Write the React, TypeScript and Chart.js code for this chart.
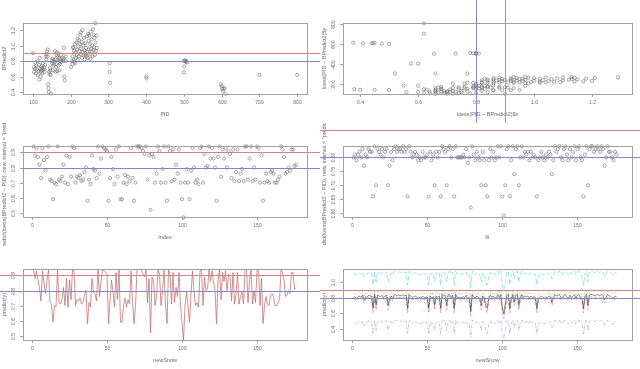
import React, { useEffect, useRef } from "react";
import { Chart, registerables } from "chart.js";
Chart.register(...registerables);

// ---------- data ----------
const pid = [
  100,102,103,105,106,108,109,110,112,113,115,116,117,118,119,120,121,122,123,124,
  125,126,127,128,130,131,132,134,135,136,137,138,139,140,141,142,143,144,145,146,
  147,148,150,151,152,153,154,155,156,157,158,159,160,161,162,163,164,165,166,167,
  168,169,170,171,172,174,175,176,178,180,181,182,183,184,186,187,
  201,203,204,205,206,207,208,209,210,211,212,213,214,215,216,217,218,219,220,221,
  222,223,224,225,226,227,228,229,230,231,232,233,234,235,236,237,238,239,240,241,
  242,243,244,245,246,247,248,249,250,251,252,253,254,255,256,257,258,259,260,261,
  262,263,264,265,266,267,268,269,
  303,303,304,400,401,500,502,504,505,506,508,501,500,598,600,601,603,605,608,610,700,800
];
const bpredict = [
  0.90,0.66,0.72,0.70,0.78,0.64,0.74,0.69,0.80,0.62,0.67,0.75,0.56,0.84,0.70,0.60,0.66,0.73,0.68,0.71,
  0.64,0.77,0.70,0.69,0.72,0.66,0.75,0.86,0.82,0.89,0.92,0.86,0.95,0.50,0.45,0.40,0.66,0.63,0.71,0.68,
  0.62,0.38,0.80,0.77,0.83,0.68,0.74,0.81,0.76,0.79,0.93,0.82,0.66,0.72,0.88,0.91,0.67,0.85,0.79,0.74,
  0.90,0.84,0.68,0.76,0.82,0.88,0.80,0.79,0.84,0.81,0.83,0.97,0.60,0.55,0.80,0.86,
  0.72,0.80,0.76,0.86,0.98,0.97,0.82,0.93,0.79,1.02,0.77,0.91,0.84,1.04,0.88,0.95,1.09,0.82,0.99,0.86,
  1.07,0.93,1.02,1.14,0.89,1.17,0.96,1.05,0.84,1.20,0.92,1.00,0.87,1.10,0.94,0.82,1.03,0.88,0.90,0.97,
  0.86,1.12,0.92,0.84,1.15,1.06,0.95,1.13,0.89,1.02,0.83,1.18,0.96,1.08,0.92,1.00,0.86,1.21,0.94,1.14,
  0.98,1.10,0.88,1.29,1.04,0.93,1.13,0.97,
  0.77,0.66,0.52,0.60,0.575,0.80,0.81,0.80,0.79,0.80,0.78,0.73,0.655,0.50,0.475,0.445,0.41,0.44,0.45,0.376,0.62,0.62
];

const predVals = [
  0.94,0.88,0.93,0.87,0.82,0.73,0.93,0.85,0.78,0.87,
  0.94,0.72,0.71,0.59,0.70,0.69,0.94,0.72,0.71,0.74,
  0.82,0.70,0.88,0.69,0.87,0.74,0.94,0.93,0.70,0.74,
  0.73,0.75,0.71,0.72,0.77,0.80,0.58,0.72,0.69,0.88,
  0.79,0.78,0.73,0.94,0.76,0.86,0.94,0.93,0.92,0.91,
  0.58,0.73,0.87,0.79,0.69,0.92,0.74,0.94,0.59,0.59,
  0.70,0.75,0.69,0.74,0.71,0.93,0.73,0.58,0.70,0.94,
  0.94,0.94,0.93,0.91,0.89,0.94,0.72,0.88,0.52,0.89,
  0.87,0.70,0.76,0.94,0.91,0.70,0.79,0.94,0.70,0.58,
  0.94,0.91,0.71,0.92,0.72,0.82,0.76,0.92,0.70,0.59,
  0.47,0.70,0.79,0.70,0.59,0.78,0.93,0.80,0.70,0.72,
  0.69,0.93,0.94,0.70,0.89,0.80,0.81,0.94,0.86,0.93,
  0.86,0.80,0.58,0.87,0.94,0.74,0.92,0.86,0.93,0.80,
  0.91,0.89,0.73,0.92,0.71,0.77,0.92,0.71,0.76,0.79,
  0.71,0.94,0.94,0.72,0.86,0.94,0.71,0.80,0.72,0.94,
  0.93,0.70,0.88,0.58,0.70,0.76,0.71,0.70,0.77,0.78,
  0.76,0.70,0.70,0.72,0.74,0.94,0.92,0.87,0.76,0.77,
  0.80,0.78,0.92,0.92,0.81,0.82
];

const fitVals = [
  0.80,0.81,0.79,0.81,0.82,0.80,0.83,0.77,0.81,0.80,
  0.83,0.82,0.82,0.66,0.84,0.70,0.83,0.82,0.81,0.83,
  0.80,0.82,0.83,0.70,0.77,0.82,0.79,0.83,0.84,0.82,
  0.83,0.83,0.82,0.84,0.82,0.83,0.66,0.84,0.82,0.80,
  0.81,0.82,0.81,0.79,0.80,0.79,0.82,0.80,0.80,0.81,
  0.66,0.82,0.79,0.81,0.70,0.82,0.80,0.82,0.66,0.84,
  0.83,0.82,0.70,0.83,0.84,0.80,0.83,0.66,0.84,0.80,
  0.80,0.80,0.80,0.81,0.80,0.83,0.78,0.80,0.62,0.84,
  0.81,0.79,0.82,0.80,0.79,0.70,0.82,0.79,0.70,0.66,
  0.79,0.83,0.80,0.82,0.79,0.80,0.84,0.80,0.84,0.66,
  0.59,0.70,0.83,0.84,0.66,0.79,0.84,0.74,0.83,0.84,
  0.70,0.80,0.84,0.80,0.82,0.81,0.82,0.79,0.82,0.80,
  0.81,0.80,0.66,0.79,0.80,0.82,0.80,0.79,0.81,0.80,
  0.82,0.81,0.74,0.79,0.84,0.82,0.83,0.84,0.80,0.79,
  0.83,0.84,0.81,0.79,0.83,0.80,0.82,0.84,0.79,0.83,
  0.84,0.80,0.79,0.66,0.81,0.84,0.70,0.83,0.84,0.84,
  0.82,0.83,0.84,0.83,0.82,0.84,0.83,0.77,0.80,0.84,
  0.82,0.82,0.80,0.79,0.82,0.81
];

const upperWide = [
  1.10,1.11,1.09,1.11,1.12,1.10,1.13,1.07,1.11,1.10,
  1.13,1.12,1.12,0.96,1.14,1.00,1.13,1.12,1.11,1.13,
  1.10,1.12,1.13,1.00,1.07,1.12,1.09,1.13,1.14,1.12,
  1.13,1.13,1.12,1.14,1.12,1.13,0.96,1.14,1.12,1.10,
  1.11,1.12,1.11,1.09,1.10,1.09,1.12,1.10,1.10,1.11,
  0.96,1.12,1.09,1.11,1.00,1.12,1.10,1.12,0.96,1.14,
  1.13,1.12,1.00,1.13,1.14,1.10,1.13,0.96,1.14,1.10,
  1.10,1.10,1.10,1.11,1.10,1.13,1.08,1.10,0.92,1.14,
  1.11,1.09,1.12,1.10,1.09,1.00,1.12,1.09,1.00,0.96,
  1.09,1.13,1.10,1.12,1.09,1.10,1.14,1.10,1.14,0.96,
  0.89,1.00,1.13,1.14,0.96,1.09,1.14,1.04,1.13,1.14,
  1.00,1.10,1.14,1.10,1.12,1.11,1.12,1.09,1.12,1.10,
  1.11,1.10,0.96,1.09,1.10,1.12,1.10,1.09,1.11,1.10,
  1.12,1.11,1.04,1.09,1.14,1.12,1.13,1.14,1.10,1.09,
  1.13,1.14,1.11,1.09,1.13,1.10,1.12,1.14,1.09,1.13,
  1.14,1.10,1.09,0.96,1.11,1.14,1.00,1.13,1.14,1.14,
  1.12,1.13,1.14,1.13,1.12,1.14,1.13,1.07,1.10,1.14,
  1.12,1.12,1.10,1.09,1.12,1.11
];
const upperNarrow = [
  0.85,0.86,0.84,0.86,0.87,0.85,0.88,0.82,0.86,0.85,
  0.88,0.87,0.87,0.70,0.89,0.74,0.88,0.87,0.86,0.88,
  0.85,0.87,0.88,0.74,0.82,0.87,0.84,0.88,0.89,0.87,
  0.88,0.88,0.87,0.89,0.87,0.88,0.70,0.89,0.87,0.85,
  0.86,0.87,0.86,0.84,0.85,0.84,0.87,0.85,0.85,0.86,
  0.70,0.87,0.84,0.86,0.74,0.87,0.85,0.87,0.70,0.89,
  0.88,0.87,0.74,0.88,0.89,0.85,0.88,0.70,0.89,0.85,
  0.85,0.85,0.85,0.86,0.85,0.88,0.83,0.85,0.66,0.89,
  0.86,0.84,0.87,0.85,0.84,0.74,0.87,0.84,0.74,0.70,
  0.84,0.88,0.85,0.87,0.84,0.85,0.89,0.85,0.89,0.70,
  0.63,0.74,0.88,0.89,0.70,0.84,0.89,0.79,0.88,0.89,
  0.74,0.85,0.89,0.85,0.87,0.86,0.87,0.84,0.87,0.85,
  0.86,0.85,0.70,0.84,0.85,0.87,0.85,0.84,0.86,0.85,
  0.87,0.86,0.79,0.84,0.89,0.87,0.88,0.89,0.85,0.84,
  0.88,0.89,0.86,0.84,0.88,0.85,0.87,0.89,0.84,0.88,
  0.89,0.85,0.84,0.70,0.86,0.89,0.74,0.88,0.89,0.89,
  0.87,0.88,0.89,0.88,0.87,0.89,0.88,0.82,0.85,0.89,
  0.87,0.87,0.85,0.84,0.87,0.86
];
const lowerNarrow = [
  0.77,0.78,0.76,0.78,0.79,0.77,0.80,0.73,0.78,0.77,
  0.80,0.79,0.79,0.60,0.81,0.64,0.80,0.79,0.78,0.80,
  0.77,0.79,0.80,0.64,0.73,0.79,0.76,0.80,0.81,0.79,
  0.80,0.80,0.79,0.81,0.79,0.80,0.60,0.81,0.79,0.77,
  0.78,0.79,0.78,0.76,0.77,0.76,0.79,0.77,0.77,0.78,
  0.60,0.79,0.76,0.78,0.64,0.79,0.77,0.79,0.60,0.81,
  0.80,0.79,0.64,0.80,0.81,0.77,0.80,0.60,0.81,0.77,
  0.77,0.77,0.77,0.78,0.77,0.80,0.75,0.77,0.56,0.81,
  0.78,0.76,0.79,0.77,0.76,0.64,0.79,0.76,0.64,0.60,
  0.76,0.80,0.77,0.79,0.76,0.77,0.81,0.77,0.81,0.60,
  0.53,0.64,0.80,0.81,0.60,0.76,0.81,0.70,0.80,0.81,
  0.64,0.77,0.81,0.77,0.79,0.78,0.79,0.76,0.79,0.77,
  0.78,0.77,0.60,0.76,0.77,0.79,0.77,0.76,0.78,0.77,
  0.79,0.78,0.70,0.76,0.81,0.79,0.80,0.81,0.77,0.76,
  0.80,0.81,0.78,0.76,0.80,0.77,0.79,0.81,0.76,0.80,
  0.81,0.77,0.76,0.60,0.78,0.81,0.64,0.80,0.81,0.81,
  0.79,0.80,0.81,0.80,0.79,0.81,0.80,0.73,0.77,0.81,
  0.79,0.79,0.77,0.76,0.79,0.78
];
const lowerWide = [
  0.47,0.48,0.46,0.48,0.49,0.47,0.50,0.44,0.48,0.47,
  0.50,0.49,0.49,0.33,0.51,0.37,0.50,0.49,0.48,0.50,
  0.47,0.49,0.50,0.37,0.44,0.49,0.46,0.50,0.51,0.49,
  0.50,0.50,0.49,0.51,0.49,0.50,0.33,0.51,0.49,0.47,
  0.48,0.49,0.48,0.46,0.47,0.46,0.49,0.47,0.47,0.48,
  0.33,0.49,0.46,0.48,0.37,0.49,0.47,0.49,0.33,0.51,
  0.50,0.49,0.37,0.50,0.51,0.47,0.50,0.33,0.51,0.47,
  0.47,0.47,0.47,0.48,0.47,0.50,0.45,0.47,0.29,0.51,
  0.48,0.46,0.49,0.47,0.46,0.37,0.49,0.46,0.37,0.33,
  0.46,0.50,0.47,0.49,0.46,0.47,0.51,0.47,0.51,0.33,
  0.26,0.37,0.50,0.51,0.33,0.46,0.51,0.41,0.50,0.51,
  0.37,0.47,0.51,0.47,0.49,0.48,0.49,0.46,0.49,0.47,
  0.48,0.47,0.33,0.46,0.47,0.49,0.47,0.46,0.48,0.47,
  0.49,0.48,0.41,0.46,0.51,0.49,0.50,0.51,0.47,0.46,
  0.50,0.51,0.48,0.46,0.50,0.47,0.49,0.51,0.46,0.50,
  0.51,0.47,0.46,0.33,0.48,0.51,0.37,0.50,0.51,0.51,
  0.49,0.50,0.51,0.50,0.49,0.51,0.50,0.44,0.47,0.51,
  0.49,0.49,0.47,0.46,0.49,0.48
];

const pidTicks = [100, 200, 300, 400, 500, 600, 700, 800];
const bpTicks = [0.4, 0.6, 0.8, 1.0, 1.2];
const pidTicksY = [200, 400, 600, 800];
const indexTicks = [0, 50, 100, 150];
const predTicks = [0.5, 0.6, 0.7, 0.8, 0.9];
const fitTicks = [0.6, 0.65, 0.7, 0.75, 0.8];
const matTicks = [0.4, 0.6, 0.8, 1.0];
const cutHigh = 0.9;
const cutLow = 0.8;

// ---------- styling ----------
const FONT = '"Liberation Sans", Arial, sans-serif';
const BOX = "#a0a0a0";
const TXT = "#6a6a6a";
const PT = "#6e6e6e";
const RED = "rgb(215,130,130)";
const BLUE = "rgb(130,135,195)";

const idx = predVals.map((_, i) => i + 1);
const xy = (xs: number[], ys: number[]) => xs.map((x, i) => ({ x, y: ys[i] }));

function scatterDs(data: any[]) {
  return {
    data, showLine: false, pointRadius: 1.6, pointBorderWidth: 0.6,
    pointBorderColor: PT, pointBackgroundColor: "rgba(0,0,0,0)", clip: 3,
  };
}
function lineDs(data: any[], color: string, dash: number[] = [], w = 0.9) {
  return {
    data, showLine: true, pointRadius: 0, borderColor: color, borderWidth: w,
    borderDash: dash, tension: 0, clip: 1,
  };
}

function makeAxes(cfg: any) {
  return {
    id: "rAxes",
    afterDraw(chart: any) {
      const { ctx, chartArea: a, scales } = chart;
      const xs = scales.x, ys = scales.y;
      ctx.save();
      ctx.strokeStyle = BOX;
      ctx.lineWidth = 1;
      ctx.strokeRect(Math.round(a.left) + 0.5, Math.round(a.top) + 0.5,
        Math.round(a.right - a.left), Math.round(a.bottom - a.top));
      ctx.fillStyle = TXT;
      ctx.font = `5px ${FONT}`;
      ctx.textAlign = "center";
      ctx.textBaseline = "middle";
      for (const t of cfg.xTicks) {
        const px = Math.round(xs.getPixelForValue(t)) + 0.5;
        ctx.beginPath(); ctx.moveTo(px, a.bottom); ctx.lineTo(px, a.bottom + 3); ctx.stroke();
        ctx.fillText(t.toFixed(cfg.xDec), px, a.bottom + 9);
      }
      for (const t of cfg.yTicks) {
        const py = Math.round(ys.getPixelForValue(t)) + 0.5;
        ctx.beginPath(); ctx.moveTo(a.left - 3, py); ctx.lineTo(a.left, py); ctx.stroke();
        ctx.save();
        ctx.translate(a.left - 9, py);
        ctx.rotate(-Math.PI / 2);
        ctx.fillText(t.toFixed(cfg.yDec), 0, 0);
        ctx.restore();
      }
      ctx.font = `5.5px ${FONT}`;
      ctx.fillText(cfg.xLabel, (a.left + a.right) / 2, a.bottom + 20);
      ctx.save();
      ctx.translate(4, (a.top + a.bottom) / 2);
      ctx.rotate(-Math.PI / 2);
      ctx.fillText(cfg.yLabel, 0, 0);
      ctx.restore();
      // reference lines
      for (const h of cfg.hlines || []) {
        const py = Math.round(ys.getPixelForValue(h.v)) + 0.5;
        ctx.strokeStyle = h.c; ctx.lineWidth = 1;
        ctx.beginPath(); ctx.moveTo(h.fromBox ? a.left : 0, py); ctx.lineTo(chart.width, py); ctx.stroke();
      }
      for (const v of cfg.vlines || []) {
        const px = Math.round(xs.getPixelForValue(v.v)) + 0.5;
        ctx.strokeStyle = v.c; ctx.lineWidth = 1;
        ctx.beginPath(); ctx.moveTo(px, 0); ctx.lineTo(px, chart.height); ctx.stroke();
      }
      ctx.restore();
    },
  };
}

const panels: any[] = [
  {
    left: 0, top: 0, pad: { left: 23, right: 13, top: 23, bottom: 29 },
    xr: [73.5, 826], yr: [0.374, 1.292],
    datasets: [scatterDs(xy(pid, bpredict))],
    axes: { xTicks: pidTicks, xDec: 0, yTicks: bpTicks, yDec: 1, xLabel: "PID", yLabel: "BPredict2",
      hlines: [{ v: cutHigh, c: RED, fromBox: true }, { v: cutLow, c: BLUE, fromBox: true }] },
  },
  {
    left: 320, top: 0, pad: { left: 23, right: 8, top: 23, bottom: 29 },
    xr: [0.341, 1.338], yr: [100, 805],
    datasets: [scatterDs(xy(bpredict, pid))],
    axes: { xTicks: bpTicks, xDec: 1, yTicks: pidTicksY, yDec: 0, xLabel: "loess(PID ~ BPredict2)$x",
      yLabel: "loess(PID ~ BPredict2)$y", vlines: [{ v: cutLow, c: BLUE }, { v: cutHigh, c: RED }] },
  },
  {
    left: 0, top: 123, pad: { left: 23, right: 13, top: 23, bottom: 29 },
    xr: [-6, 183.3], yr: [0.472, 0.943],
    datasets: [scatterDs(xy(idx, predVals))],
    axes: { xTicks: indexTicks, xDec: 0, yTicks: predTicks, yDec: 1, xLabel: "Index",
      yLabel: 'predict(loess(BPredict2 ~ PID), new, interval = "predict")',
      hlines: [{ v: cutHigh, c: RED, fromBox: true }, { v: cutLow, c: BLUE, fromBox: true }] },
  },
  {
    left: 320, top: 123, pad: { left: 23, right: 8, top: 23, bottom: 29 },
    xr: [-6, 186.3], yr: [0.586, 0.841],
    datasets: [scatterDs(xy(idx, fitVals))],
    axes: { xTicks: indexTicks, xDec: 0, yTicks: fitTicks, yDec: 2, xLabel: "fit",
      yLabel: 'predict(loess(BPredict2 ~ PID), new, interval = "predict")$fit',
      hlines: [{ v: cutHigh, c: RED }, { v: cutLow, c: BLUE }] },
  },
  {
    left: 0, top: 246, pad: { left: 23, right: 13, top: 23, bottom: 29 },
    xr: [-6, 183.3], yr: [0.472, 0.943],
    datasets: [lineDs(xy(idx, predVals), "rgba(185,105,105,0.8)", [], 0.9)],
    axes: { xTicks: indexTicks, xDec: 0, yTicks: predTicks, yDec: 1, xLabel: "newSnow", yLabel: "predict(y)",
      hlines: [{ v: cutHigh, c: RED }, { v: cutLow, c: BLUE }] },
  },
  {
    left: 320, top: 246, pad: { left: 23, right: 8, top: 23, bottom: 29 },
    xr: [-6, 186.3], yr: [0.252, 1.168],
    datasets: [
      lineDs(xy(idx, fitVals), "rgba(30,30,30,0.75)", [], 0.7),
      lineDs(xy(idx, lowerNarrow), "rgba(220,70,70,0.7)", [3, 2], 0.7),
      lineDs(xy(idx, upperNarrow), "rgba(60,175,60,0.7)", [1, 1.5], 0.8),
      lineDs(xy(idx, lowerWide), "rgba(120,120,170,0.55)", [1, 1.5, 3, 1.5], 0.8),
      lineDs(xy(idx, upperWide), "rgba(80,215,215,0.7)", [5, 2], 0.8),
    ],
    axes: { xTicks: indexTicks, xDec: 0, yTicks: matTicks, yDec: 1, xLabel: "newSnow", yLabel: "predict(y)",
      hlines: [{ v: cutHigh, c: RED }, { v: cutLow, c: BLUE }] },
  },
];

function Panel({ p }: { p: any }) {
  const ref = useRef<HTMLCanvasElement | null>(null);
  useEffect(() => {
    if (!ref.current) return;
    const chart = new Chart(ref.current, {
      type: "scatter",
      data: { datasets: p.datasets },
      options: {
        responsive: false,
        animation: false,
        devicePixelRatio: 1,
        events: [],
        layout: { padding: p.pad },
        scales: {
          x: { type: "linear", display: false, min: p.xr[0], max: p.xr[1] },
          y: { type: "linear", display: false, min: p.yr[0], max: p.yr[1] },
        },
        plugins: { legend: { display: false }, tooltip: { enabled: false } },
      } as any,
      plugins: [makeAxes(p.axes)],
    });
    return () => chart.destroy();
  }, [p]);
  return (
    <canvas ref={ref} width={320} height={123}
      style={{ position: "absolute", left: p.left, top: p.top, width: 320, height: 123 }} />
  );
}

export default function App() {
  return (
    <div style={{ position: "fixed", left: 0, top: 0, width: 640, height: 369, background: "#fff", overflow: "hidden" }}>
      {panels.map((p, i) => <Panel key={i} p={p} />)}
    </div>
  );
}
